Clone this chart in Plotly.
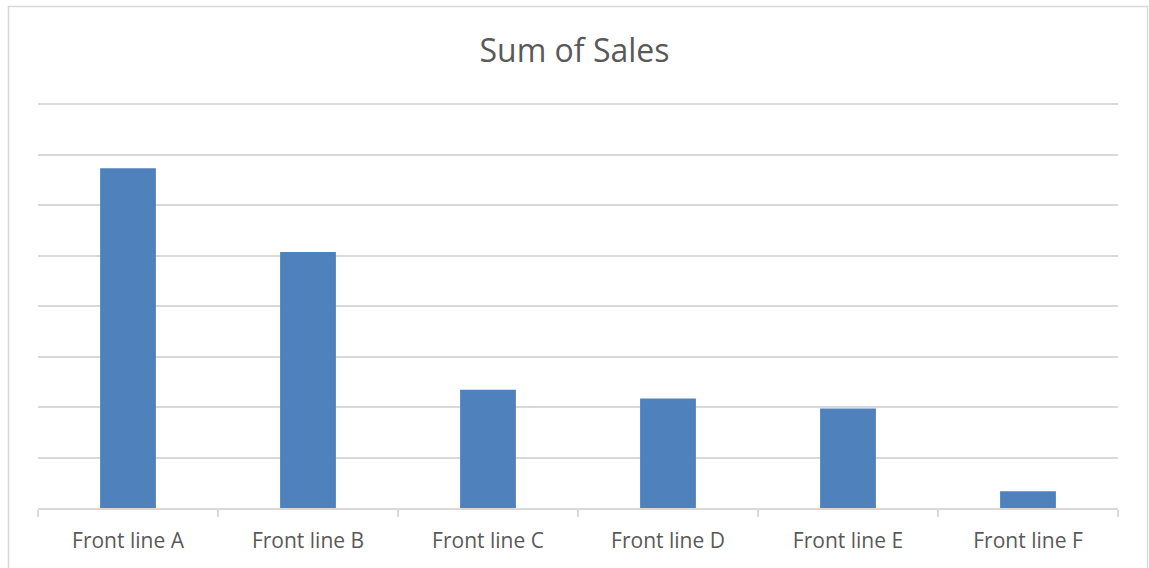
import plotly.graph_objects as go

categories = ["Front line A", "Front line B", "Front line C", "Front line D", "Front line E", "Front line F"]
sales = [6.73, 5.07, 2.34, 2.17, 1.97, 0.33]

W, H = 1149, 568
ml, mr, mt, mb = 38, 31, 103, 60
pw, ph = W - ml - mr, H - mt - mb
ymax = 8.02

def px_x(x):
    return (x - ml) / pw

def px_y(y):
    return (H - mb - y) / ph

fig = go.Figure(go.Bar(x=categories, y=sales, marker=dict(color="#4f81bd", line=dict(width=0))))

fig.update_layout(
    width=W, height=H,
    margin=dict(l=ml, r=mr, t=mt, b=mb),
    paper_bgcolor="white", plot_bgcolor="white",
    bargap=0.69,
    showlegend=False,
    font=dict(family="Open Sans", color="#595959"),
    title=dict(text="Sum of Sales", x=0.5, xanchor="center", y=1 - 51 / H, yanchor="middle",
               font=dict(family="Open Sans", size=32, color="#595959")),
    xaxis=dict(showline=True, linecolor="#d9d9d9", linewidth=1.5, ticks="outside", tickson="boundaries",
               ticklen=7, tickcolor="#d9d9d9", tickwidth=1.5, tickfont=dict(size=21, color="#595959"),
               ticklabelstandoff=13, showgrid=False),
    yaxis=dict(range=[0, ymax], dtick=1, showticklabels=False, showgrid=True, gridcolor="#d9d9d9",
               gridwidth=1.5, zeroline=False, ticks=""),
    shapes=[dict(type="rect", xref="paper", yref="paper",
                 x0=px_x(8.5), x1=px_x(1147.5), y0=px_y(575), y1=px_y(6.5),
                 line=dict(color="#d9d9d9", width=1.5), fillcolor="rgba(0,0,0,0)", layer="below")],
)

fig.write_html("out.html")
